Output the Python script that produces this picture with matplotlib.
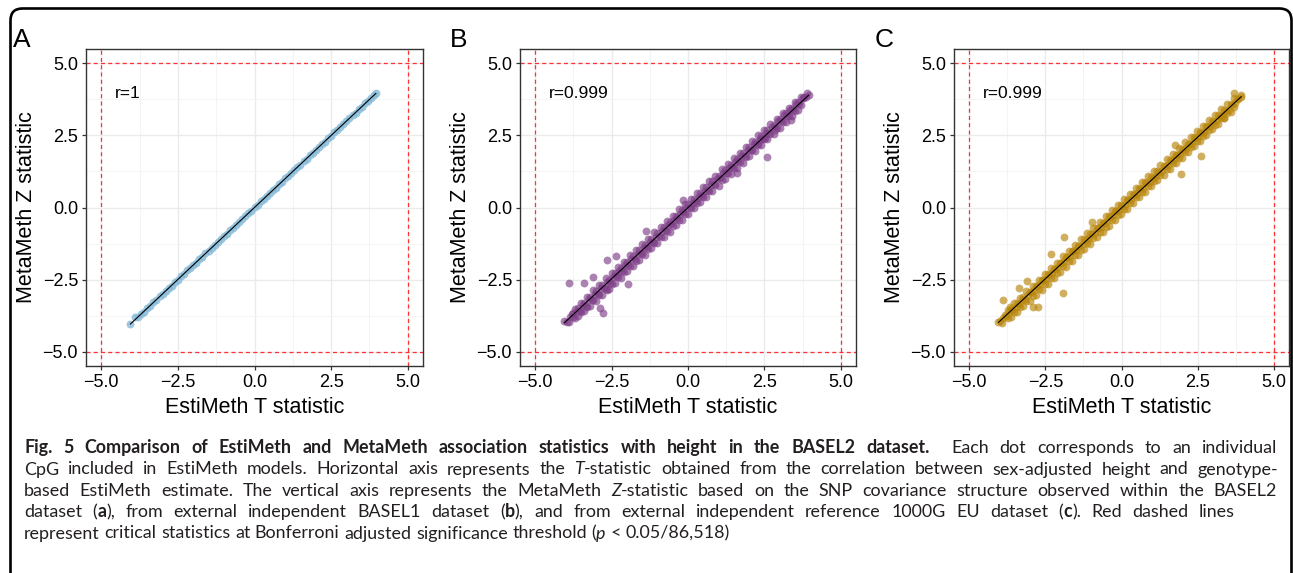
import re
import matplotlib
matplotlib.use('Agg')
import matplotlib.pyplot as plt
import matplotlib.transforms as mtransforms
from matplotlib.patches import FancyBboxPatch
import numpy as np

plt.rcParams['font.family'] = ['Liberation Sans', 'DejaVu Sans']

W, H = 1293, 573

# ---- data (x = EstiMeth T, y = MetaMeth Z) ----
pts_a = [(-4.05, -4.04), (-3.9, -3.79), (-3.8, -3.81), (-3.7, -3.68), (-3.6, -3.61),
         (-3.5, -3.49), (-3.4, -3.42), (-3.3, -3.29), (-3.2, -3.21), (-3.1, -3.08),
         (-3.0, -3.01), (-2.9, -2.91), (-2.8, -2.78), (-2.7, -2.71), (-2.6, -2.59),
         (-2.5, -2.52), (-2.4, -2.39), (-2.3, -2.31), (-2.2, -2.18), (-2.1, -2.11),
         (-2.0, -1.99), (-1.9, -1.91), (-1.8, -1.79), (-1.7, -1.71), (-1.6, -1.58),
         (-1.5, -1.51), (-1.4, -1.39), (-1.3, -1.31), (-1.2, -1.19), (-1.1, -1.11),
         (-1.0, -0.98), (-0.9, -0.91), (-0.8, -0.79), (-0.7, -0.71), (-0.6, -0.59),
         (-0.5, -0.51), (-0.4, -0.39), (-0.3, -0.31), (-0.2, -0.19), (-0.1, -0.11),
         (0.0, 0.01), (0.1, 0.09), (0.2, 0.21), (0.3, 0.29), (0.4, 0.41),
         (0.5, 0.49), (0.6, 0.61), (0.7, 0.69), (0.8, 0.81), (0.9, 0.89),
         (1.0, 1.01), (1.1, 1.09), (1.2, 1.21), (1.3, 1.29), (1.4, 1.41),
         (1.5, 1.49), (1.6, 1.61), (1.7, 1.69), (1.8, 1.81), (1.9, 1.89),
         (2.0, 2.01), (2.1, 2.09), (2.2, 2.21), (2.3, 2.29), (2.4, 2.41),
         (2.5, 2.49), (2.6, 2.61), (2.7, 2.69), (2.8, 2.81), (2.9, 2.89),
         (3.0, 3.01), (3.1, 3.09), (3.2, 3.21), (3.3, 3.29), (3.4, 3.41),
         (3.5, 3.49), (3.6, 3.61), (3.7, 3.69), (3.8, 3.81), (3.9, 3.89), (3.96, 3.96)]

pts_b = [
    # dense core
    (-3.95, -3.97), (-3.85, -3.80), (-3.75, -3.79), (-3.65, -3.58), (-3.55, -3.60),
    (-3.45, -3.40), (-3.35, -3.41), (-3.25, -3.18), (-3.15, -3.22), (-3.05, -3.00),
    (-2.95, -2.99), (-2.85, -2.80), (-2.75, -2.81), (-2.65, -2.58), (-2.55, -2.62),
    (-2.45, -2.41), (-2.35, -2.38), (-2.25, -2.20), (-2.15, -2.19), (-2.05, -2.00),
    (-1.95, -1.99), (-1.85, -1.80), (-1.75, -1.79), (-1.65, -1.61), (-1.55, -1.57),
    (-1.45, -1.40), (-1.35, -1.38), (-1.25, -1.21), (-1.15, -1.18), (-1.05, -1.01),
    (-0.95, -0.98), (-0.85, -0.81), (-0.75, -0.78), (-0.65, -0.61), (-0.55, -0.57),
    (-0.45, -0.42), (-0.35, -0.37), (-0.25, -0.22), (-0.15, -0.17), (-0.05, -0.03),
    (0.05, 0.03), (0.15, 0.17), (0.25, 0.22), (0.35, 0.37), (0.45, 0.42),
    (0.55, 0.57), (0.65, 0.61), (0.75, 0.78), (0.85, 0.81), (0.95, 0.98),
    (1.05, 1.01), (1.15, 1.18), (1.25, 1.21), (1.35, 1.38), (1.45, 1.40),
    (1.55, 1.57), (1.65, 1.61), (1.75, 1.79), (1.85, 1.80), (1.95, 1.99),
    (2.05, 2.00), (2.15, 2.19), (2.25, 2.20), (2.35, 2.38), (2.45, 2.41),
    (2.55, 2.60), (2.65, 2.58), (2.75, 2.81), (2.85, 2.80), (2.95, 2.99),
    (3.05, 3.00), (3.15, 3.20), (3.25, 3.18), (3.35, 3.40), (3.45, 3.38),
    (3.55, 3.60), (3.65, 3.58), (3.75, 3.80), (3.85, 3.82), (3.95, 3.92),
    # just above the line
    (-3.8, -3.71), (-3.6, -3.49), (-3.4, -3.31), (-3.2, -3.09), (-3.0, -2.90),
    (-2.8, -2.68), (-2.6, -2.51), (-2.4, -2.28), (-2.2, -2.10), (-2.0, -1.88),
    (-1.8, -1.70), (-1.6, -1.48), (-1.4, -1.30), (-1.2, -1.08), (-1.0, -0.90),
    (-0.8, -0.68), (-0.6, -0.50), (-0.4, -0.28), (-0.2, -0.10), (0.0, 0.12),
    (0.2, 0.30), (0.4, 0.52), (0.6, 0.70), (0.8, 0.91), (1.0, 1.10),
    (1.2, 1.31), (1.4, 1.49), (1.6, 1.70), (1.8, 1.89), (2.0, 2.10),
    (2.2, 2.28), (2.4, 2.49), (2.6, 2.68), (2.8, 2.88), (3.0, 3.06),
    (3.2, 3.27), (3.4, 3.45), (3.6, 3.66), (3.8, 3.84),
    # just below the line
    (-3.9, -3.98), (-3.7, -3.83), (-3.5, -3.62), (-3.3, -3.44), (-3.1, -3.22),
    (-2.9, -3.04), (-2.7, -2.82), (-2.5, -2.64), (-2.3, -2.42), (-2.1, -2.24),
    (-1.9, -2.02), (-1.7, -1.84), (-1.5, -1.62), (-1.3, -1.44), (-1.1, -1.22),
    (-0.9, -1.04), (-0.7, -0.82), (-0.5, -0.64), (-0.3, -0.42), (-0.1, -0.24),
    (0.1, -0.02), (0.3, 0.16), (0.5, 0.38), (0.7, 0.56), (0.9, 0.78),
    (1.1, 0.96), (1.3, 1.18), (1.5, 1.36), (1.7, 1.58), (1.9, 1.76),
    (2.1, 1.98), (2.3, 2.16), (2.5, 2.38), (2.7, 2.56), (2.9, 2.77),
    (3.1, 2.96), (3.3, 3.17), (3.5, 3.36), (3.7, 3.57),
    # upper edge of the band
    (-3.7, -3.52), (-3.5, -3.30), (-3.3, -3.12), (-3.1, -2.88), (-2.9, -2.70),
    (-2.7, -2.45), (-2.5, -2.28), (-2.3, -2.05), (-2.1, -1.88), (-1.9, -1.66),
    (-1.7, -1.48), (-1.5, -1.26), (-1.3, -1.08), (-1.1, -0.86), (-0.9, -0.68),
    (-0.7, -0.47), (-0.5, -0.28), (-0.3, -0.06), (-0.1, 0.12), (0.1, 0.30),
    (0.3, 0.52), (0.5, 0.70), (0.7, 0.92), (0.9, 1.10), (1.1, 1.32),
    (1.3, 1.50), (1.5, 1.71), (1.7, 1.90), (1.9, 2.10), (2.1, 2.30),
    (2.3, 2.50), (2.5, 2.68), (2.7, 2.90), (2.9, 3.08), (3.1, 3.28),
    (3.3, 3.45), (3.5, 3.66), (3.7, 3.84),
    # lower edge of the band
    (-3.6, -3.78), (-3.4, -3.60), (-3.2, -3.42), (-3.0, -3.24), (-2.8, -3.02),
    (-2.6, -2.84), (-2.4, -2.62), (-2.2, -2.44), (-2.0, -2.22), (-1.8, -2.04),
    (-1.6, -1.82), (-1.4, -1.64), (-1.2, -1.42), (-1.0, -1.24), (-0.8, -1.02),
    (-0.6, -0.84), (-0.4, -0.62), (-0.2, -0.44), (0.0, -0.22), (0.2, -0.02),
    (0.4, 0.18), (0.6, 0.36), (0.8, 0.58), (1.0, 0.76), (1.2, 0.98),
    (1.4, 1.16), (1.6, 1.38), (1.8, 1.56), (2.0, 1.78), (2.2, 1.96),
    (2.4, 2.16), (2.6, 2.36), (2.8, 2.56), (3.0, 2.76), (3.2, 2.96),
    (3.4, 3.16), (3.6, 3.38),
    # scattered points
    (-4.05, -3.94), (-3.91, -2.63), (-3.39, -2.63), (-3.12, -2.40), (-2.88, -3.50),
    (-2.77, -3.66), (-2.64, -1.82), (-2.37, -1.68), (-1.95, -2.66), (-2.65, -2.86),
    (-3.77, -3.67), (-1.37, -0.80), (-0.16, 0.26), (1.59, 1.18), (2.35, 2.34),
    (2.59, 1.76), (2.52, 2.42), (2.84, 2.69), (3.36, 3.03), (3.77, 3.79), (3.88, 3.98)]

pts_c = [
    # dense core
    (-3.98, -3.95), (-3.88, -3.84), (-3.78, -3.76), (-3.68, -3.62), (-3.58, -3.57),
    (-3.48, -3.44), (-3.38, -3.36), (-3.28, -3.21), (-3.18, -3.17), (-3.08, -3.04),
    (-2.98, -2.93), (-2.88, -2.86), (-2.78, -2.72), (-2.68, -2.66), (-2.58, -2.52),
    (-2.48, -2.47), (-2.38, -2.33), (-2.28, -2.27), (-2.18, -2.12), (-2.08, -2.07),
    (-1.98, -1.93), (-1.88, -1.86), (-1.78, -1.73), (-1.68, -1.67), (-1.58, -1.52),
    (-1.48, -1.47), (-1.38, -1.33), (-1.28, -1.27), (-1.18, -1.13), (-1.08, -1.07),
    (-0.98, -0.93), (-0.88, -0.87), (-0.78, -0.72), (-0.68, -0.67), (-0.58, -0.53),
    (-0.48, -0.47), (-0.38, -0.32), (-0.28, -0.27), (-0.18, -0.13), (-0.08, -0.07),
    (0.02, 0.06), (0.12, 0.10), (0.22, 0.25), (0.32, 0.29), (0.42, 0.45),
    (0.52, 0.49), (0.62, 0.64), (0.72, 0.69), (0.82, 0.84), (0.92, 0.89),
    (1.02, 1.03), (1.12, 1.08), (1.22, 1.23), (1.32, 1.28), (1.42, 1.43),
    (1.52, 1.47), (1.62, 1.62), (1.72, 1.67), (1.82, 1.82), (1.92, 1.86),
    (2.02, 2.01), (2.12, 2.06), (2.22, 2.21), (2.32, 2.25), (2.42, 2.40),
    (2.52, 2.44), (2.62, 2.59), (2.72, 2.63), (2.82, 2.78), (2.92, 2.83),
    (3.02, 2.97), (3.12, 3.02), (3.22, 3.17), (3.32, 3.21), (3.42, 3.36),
    (3.52, 3.40), (3.62, 3.55), (3.72, 3.61), (3.82, 3.75), (3.92, 3.84),
    # just above the line
    (-3.82, -3.72), (-3.62, -3.51), (-3.42, -3.33), (-3.22, -3.11), (-3.02, -2.93),
    (-2.82, -2.71), (-2.62, -2.53), (-2.42, -2.31), (-2.22, -2.13), (-2.02, -1.91),
    (-1.82, -1.73), (-1.62, -1.51), (-1.42, -1.33), (-1.22, -1.11), (-1.02, -0.93),
    (-0.82, -0.71), (-0.62, -0.53), (-0.42, -0.31), (-0.22, -0.13), (-0.02, 0.09),
    (0.18, 0.27), (0.38, 0.48), (0.58, 0.66), (0.78, 0.87), (0.98, 1.05),
    (1.18, 1.26), (1.38, 1.44), (1.58, 1.65), (1.78, 1.83), (1.98, 2.04),
    (2.18, 2.22), (2.38, 2.43), (2.58, 2.61), (2.78, 2.82), (2.98, 3.00),
    (3.18, 3.21), (3.38, 3.39), (3.58, 3.60), (3.78, 3.78),
    # just below the line
    (-3.92, -4.00), (-3.72, -3.85), (-3.52, -3.64), (-3.32, -3.46), (-3.12, -3.24),
    (-2.92, -3.06), (-2.72, -2.84), (-2.52, -2.66), (-2.32, -2.44), (-2.12, -2.26),
    (-1.92, -2.04), (-1.72, -1.86), (-1.52, -1.64), (-1.32, -1.46), (-1.12, -1.24),
    (-0.92, -1.06), (-0.72, -0.84), (-0.52, -0.66), (-0.32, -0.44), (-0.12, -0.26),
    (0.08, -0.04), (0.28, 0.14), (0.48, 0.35), (0.68, 0.53), (0.88, 0.75),
    (1.08, 0.93), (1.28, 1.14), (1.48, 1.32), (1.68, 1.53), (1.88, 1.71),
    (2.08, 1.92), (2.28, 2.10), (2.48, 2.31), (2.68, 2.49), (2.88, 2.70),
    (3.08, 2.88), (3.28, 3.09), (3.48, 3.27), (3.68, 3.48),
    # upper edge
    (-3.72, -3.55), (-3.52, -3.33), (-3.32, -3.13), (-3.12, -2.91), (-2.92, -2.72),
    (-2.72, -2.50), (-2.52, -2.31), (-2.32, -2.10), (-2.12, -1.91), (-1.92, -1.70),
    (-1.72, -1.52), (-1.52, -1.30), (-1.32, -1.11), (-1.12, -0.90), (-0.92, -0.71),
    (-0.72, -0.50), (-0.52, -0.31), (-0.32, -0.10), (-0.12, 0.09), (0.08, 0.29),
    (0.28, 0.48), (0.48, 0.69), (0.68, 0.88), (0.88, 1.08), (1.08, 1.28),
    (1.28, 1.48), (1.48, 1.67), (1.68, 1.87), (1.88, 2.06), (2.08, 2.26),
    (2.28, 2.45), (2.48, 2.65), (2.68, 2.84), (2.88, 3.03), (3.08, 3.22),
    (3.28, 3.41), (3.48, 3.60), (3.68, 3.80),
    # lower edge
    (-3.62, -3.80), (-3.42, -3.62), (-3.22, -3.43), (-3.02, -3.24), (-2.82, -3.04),
    (-2.62, -2.85), (-2.42, -2.64), (-2.22, -2.45), (-2.02, -2.24), (-1.82, -2.05),
    (-1.62, -1.84), (-1.42, -1.65), (-1.22, -1.44), (-1.02, -1.25), (-0.82, -1.04),
    (-0.62, -0.85), (-0.42, -0.64), (-0.22, -0.45), (-0.02, -0.24), (0.18, -0.04),
    (0.38, 0.16), (0.58, 0.35), (0.78, 0.55), (0.98, 0.75), (1.18, 0.95),
    (1.38, 1.14), (1.58, 1.34), (1.78, 1.54), (1.98, 1.73), (2.18, 1.93),
    (2.38, 2.13), (2.58, 2.32), (2.78, 2.52), (2.98, 2.72), (3.18, 2.91),
    (3.38, 3.11), (3.58, 3.32),
    # scattered points
    (-4.04, -3.96), (-3.88, -3.21), (-3.66, -3.46), (-3.38, -2.80), (-3.09, -2.55),
    (-2.89, -3.47), (-2.75, -3.44), (-2.33, -1.61), (-1.93, -2.98), (-1.88, -1.03),
    (-0.98, -0.49), (1.75, 2.17), (1.94, 1.16), (2.62, 1.78), (3.38, 3.09),
    (3.71, 3.96), (3.93, 3.90)]

panel_letters = ['A', 'B', 'C']
r_labels = ['r=1', 'r=0.999', 'r=0.999']
point_colors = ['#86BAD8', '#7F3F88', '#B8860B']
point_alpha = [0.8, 0.65, 0.65]
point_size = [32, 32, 32]

major_ticks = [-5.0, -2.5, 0.0, 2.5, 5.0]
minor_ticks = [-3.75, -1.25, 1.25, 3.75]
tick_labels = ['\u22125.0', '\u22122.5', '0.0', '2.5', '5.0']
threshold = 5.0

caption_lines = [
    '**Fig. 5 Comparison of EstiMeth and MetaMeth association statistics with height in the BASEL2 dataset.**'
    '  Each dot corresponds to an individual',
    'CpG included in EstiMeth models. Horizontal axis represents the *T*-statistic obtained from the '
    'correlation between sex-adjusted height and genotype-',
    'based EstiMeth estimate. The vertical axis represents the MetaMeth *Z*-statistic based on the SNP '
    'covariance structure observed within the BASEL2',
    'dataset (**a**), from external independent BASEL1 dataset (**b**), and from external independent '
    'reference 1000G EU dataset (**c**). Red dashed lines',
    'represent critical statistics at Bonferroni adjusted significance threshold (*p* < 0.05/86,518)',
]
caption_ends = [1277, 1278, 1277, 1235, None]
caption_base = [453, 474.5, 496, 517, 538.5]

# ---- layout (pixels) ----
axes_lr = [(86, 423), (520, 856), (954, 1289)]
axes_top, axes_bot = 49, 366
letter_x = [13, 450, 875]

fig = plt.figure(figsize=(W / 100, H / 100), dpi=100)
fig.patch.set_facecolor('white')

for i, pts in enumerate([pts_a, pts_b, pts_c]):
    left, right = axes_lr[i]
    ax = fig.add_axes([left / W, 1 - axes_bot / H, (right - left) / W, (axes_bot - axes_top) / H])
    x = np.array([p[0] for p in pts])
    y = np.array([p[1] for p in pts])

    ax.scatter(x, y, s=point_size[i], color=point_colors[i], alpha=point_alpha[i],
               linewidths=0, zorder=3)
    k, b = np.polyfit(x, y, 1)
    xl = np.array([x.min(), x.max()])
    ax.plot(xl, k * xl + b, color='black', lw=0.8, zorder=4)

    for v in (-threshold, threshold):
        ax.axvline(v, color='#FF3030', lw=0.9, ls=(0, (3.2, 2.6)), zorder=2)
        ax.axhline(v, color='#FF3030', lw=0.9, ls=(0, (3.2, 2.6)), zorder=2)

    ax.set_xlim(-5.5, 5.5)
    ax.set_ylim(-5.5, 5.5)
    ax.set_xticks(major_ticks)
    ax.set_yticks(major_ticks)
    ax.set_xticklabels(tick_labels)
    ax.set_yticklabels(tick_labels)
    ax.set_xticks(minor_ticks, minor=True)
    ax.set_yticks(minor_ticks, minor=True)
    ax.tick_params(which='major', length=3.2, width=0.9, color='#333333',
                   labelsize=13, labelcolor='black', pad=2.5)
    ax.tick_params(which='minor', length=0)
    ax.grid(which='major', color='#EBEBEB', lw=1.0)
    ax.grid(which='minor', color='#F3F3F3', lw=0.6)
    ax.set_axisbelow(True)
    for sp in ax.spines.values():
        sp.set_color('#333333')
        sp.set_linewidth(1.0)

    ax.text(-4.55, 3.97, r_labels[i], fontsize=12.5, ha='left', va='center', zorder=5)

    fig.text(letter_x[i] / W, 1 - 47 / H, panel_letters[i], fontsize=19,
             ha='left', va='baseline')
    fig.text((left - 60) / W, 1 - ((axes_top + axes_bot) / 2) / H, 'MetaMeth Z statistic',
             fontsize=15.5, rotation=90, ha='center', va='center')
    fig.text((left + right) / 2 / W, 1 - 413 / H, 'EstiMeth T statistic',
             fontsize=15.5, ha='center', va='baseline')

# outer rounded frame (bottom edge runs off the picture)
frame = FancyBboxPatch((10.5, -40), 1281, H - 8.5 + 40,
                       boxstyle='round,pad=0,rounding_size=12',
                       transform=mtransforms.IdentityTransform(),
                       fill=False, ec='black', lw=1.9)
fig.add_artist(frame)

# ---- caption, set word by word so lines are justified ----
CAP_FONT = ['Lato', 'DejaVu Sans']
CAP_SIZE = 12.9
CAP_COLOR = '#231F20'
cap_x0 = 24
renderer = fig.canvas.get_renderer()


def parse_runs(line):
    runs = []
    for chunk in re.split(r'(\*\*.+?\*\*|\*.+?\*)', line):
        if not chunk:
            continue
        if chunk.startswith('**'):
            runs.append((chunk[2:-2], 'bold', 'normal'))
        elif chunk.startswith('*'):
            runs.append((chunk[1:-1], 'normal', 'italic'))
        else:
            runs.append((chunk, 'normal', 'normal'))
    return runs


def split_words(runs):
    words = [[]]
    gaps = []
    for text, wt, st in runs:
        for j, part in enumerate(text.split(' ')):
            if j > 0:
                if words[-1]:
                    words.append([])
                    gaps.append(1)
                elif gaps:
                    gaps[-1] += 1
            if part:
                words[-1].append((part, wt, st))
    if not words[-1]:
        words.pop()
        gaps.pop()
    return words, gaps


def make_text(s, wt, st, xpx=0, ypx=0):
    return fig.text(xpx / W, 1 - ypx / H, s, fontsize=CAP_SIZE, family=CAP_FONT,
                    weight=wt, style=st, color=CAP_COLOR, ha='left', va='baseline')


def width_of(s, wt, st):
    t = make_text(s, wt, st)
    w = t.get_window_extent(renderer).width
    t.remove()
    return w


space_w = width_of('n n', 'normal', 'normal') - width_of('nn', 'normal', 'normal')

for line, x_end, base in zip(caption_lines, caption_ends, caption_base):
    words, gaps = split_words(parse_runs(line))
    run_w = [[width_of(*r) for r in wd] for wd in words]
    word_w = [sum(rw) for rw in run_w]
    if x_end is not None and sum(gaps) > 0:
        gap_w = (x_end - cap_x0 - sum(word_w)) / sum(gaps)
    else:
        gap_w = space_w
    xpos = cap_x0
    for n, wd in enumerate(words):
        xr = xpos
        for r, rw in zip(wd, run_w[n]):
            make_text(r[0], r[1], r[2], xr, base)
            xr += rw
        xpos += word_w[n]
        if n < len(gaps):
            xpos += gaps[n] * gap_w

fig.savefig('out.png', dpi=100)
